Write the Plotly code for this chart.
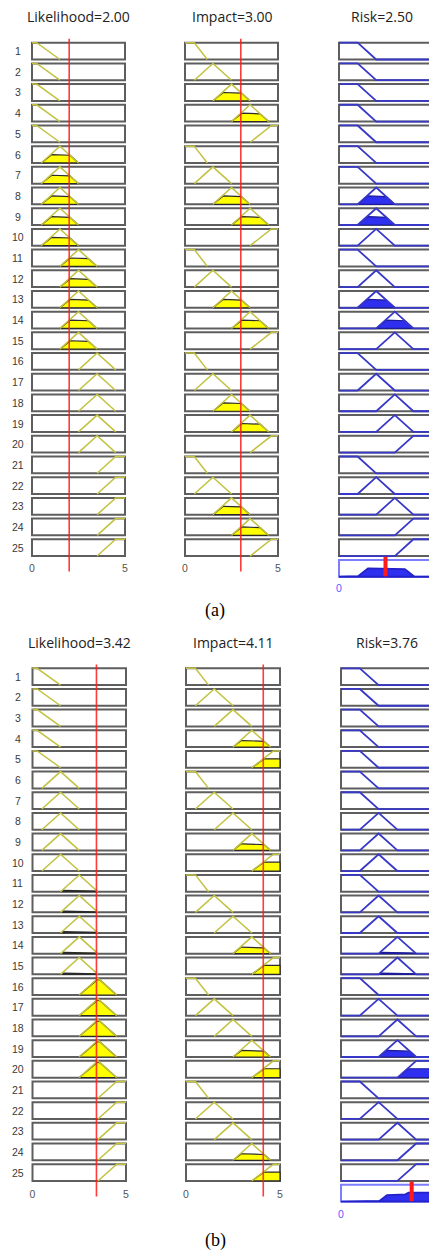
import numpy as np
import plotly.graph_objects as go

W, H = 429, 1255

# ---------------- data ----------------
mf_names = ['VL', 'L', 'M', 'H', 'VH']
lik_params = [[0, 0, 0.25, 1.5], [0.5, 1.5, 1.5, 2.5], [1.5, 2.5, 2.5, 3.5],
              [2.5, 3.5, 3.5, 4.5], [3.5, 4.5, 5, 5]]
imp_params = [[0, 0, 0.5, 1.2], [0.5, 1.5, 1.5, 2.5], [1.5, 2.5, 2.5, 3.5],
              [2.5, 3.5, 3.5, 4.5], [3.5, 4.65, 5, 5]]
risk_params = [[0, 0, 1, 2], [1, 2, 2, 3], [2, 3, 3, 4], [3, 4, 5, 5], [4, 5, 5, 5]]

rule_numbers = list(range(1, 26))
rule_lik = ['VL'] * 5 + ['L'] * 5 + ['M'] * 5 + ['H'] * 5 + ['VH'] * 5
rule_imp = ['VL', 'L', 'M', 'H', 'VH'] * 5
rule_risk = ['VL', 'VL', 'VL', 'VL', 'VL', 'VL', 'VL', 'L', 'L', 'L',
             'VL', 'L', 'L', 'M', 'M', 'VL', 'L', 'M', 'M', 'H',
             'VL', 'L', 'M', 'H', 'H']

panel_labels = ['(a)', '(b)']
likelihood_in = [2.00, 3.42]
impact_in = [3.00, 4.11]
risk_out = [2.50, 3.76]
x_ticks = [0, 5]

# ---------------- styling / layout geometry (pixels) ----------------
box_px = [[(32, 125), (185, 278), (339, 432)],
          [(32.5, 126), (186, 280), (341, 435)]]
col_dom_px = [(24, 150), (160, 305), (312, 429)]
panel_dom_px = [(0, 620), (620, 1255)]
row1_top = [42.7, 668.3]
pitch = [20.69, 20.66]
box_h = 16.8
title_y = [16, 642]
title_x = [[78, 232, 382], [79, 233, 387]]
label_y = [611, 1240]
tick_pos_px = [560, 1186]
risk_tick_pos_px = [580, 1206]

YEL_LINE = '#c2c240'
YEL_FILL = '#ffff00'
BLUE_LINE = '#3838c8'
BLUE_FILL = '#2f2ff0'
BOX = '#5e5e5e'
RED = 'rgba(255,25,25,0.85)'


def trapmf(x, p):
    a, b, c, d = p
    x = np.asarray(x, float)
    y = np.zeros_like(x)
    if b > a:
        y = np.where((x > a) & (x < b), (x - a) / (b - a), y)
    y = np.where((x >= b) & (x <= c), 1.0, y)
    if d > c:
        y = np.where((x > c) & (x < d), (d - x) / (d - c), y)
    return y


def mu(v, p):
    return float(trapmf(np.array([v]), p)[0])


def outline(p, full):
    a, b, c, d = p
    pts = []
    if full and a > 0:
        pts.append((0, 0))
    if a < b:
        pts.append((a, 0))
    pts.append((b, 1))
    pts.append((c, 1))
    if c < d:
        pts.append((d, 0))
    if full and d < 5:
        pts.append((5, 0))
    return pts


XS = np.linspace(0, 5, 1001)


def clipped_poly(vals):
    idx = np.where(vals > 1e-9)[0]
    if len(idx) == 0:
        return [], []
    i0 = max(idx[0] - 1, 0)
    i1 = min(idx[-1] + 1, len(XS) - 1)
    xs = list(XS[i0:i1 + 1]) + [XS[i1], XS[i0]]
    ys = list(vals[i0:i1 + 1]) + [0, 0]
    return xs, ys


fig = go.Figure()
layout = {}
annotations = []
shapes = []

for pi in range(2):
    k = box_h / pitch[pi]

    def ypx(p, pi=pi, k=k):
        return -1 + k - (p - row1_top[pi]) / pitch[pi]

    d0, d1 = panel_dom_px[pi]
    lik_v, imp_v, risk_v = likelihood_in[pi], impact_in[pi], risk_out[pi]
    strengths = []
    for r in range(25):
        ml = mu(lik_v, lik_params[mf_names.index(rule_lik[r])])
        mi = mu(imp_v, imp_params[mf_names.index(rule_imp[r])])
        strengths.append(min(ml, mi))

    for ci in range(3):
        ax = pi * 3 + ci + 1
        xname = 'xaxis' if ax == 1 else f'xaxis{ax}'
        yname = 'yaxis' if ax == 1 else f'yaxis{ax}'
        xr = 'x' if ax == 1 else f'x{ax}'
        yr = 'y' if ax == 1 else f'y{ax}'
        L, R = box_px[pi][ci]
        s = (R - L) / 5
        c0, c1 = col_dom_px[ci]
        is_risk = ci == 2
        layout[xname] = dict(
            domain=[c0 / W, c1 / W], range=[(c0 - L) / s, (c1 - L) / s],
            anchor='free',
            position=1 - (risk_tick_pos_px[pi] if is_risk else tick_pos_px[pi]) / H,
            tickvals=x_ticks, ticktext=[str(t) for t in x_ticks],
            ticks='', showgrid=False, zeroline=False, showline=False,
            tickfont=dict(family='Liberation Sans, Arial', size=10.5,
                          color='#5a5aff' if is_risk else '#555555'),
            fixedrange=True)
        layout[yname] = dict(
            domain=[1 - d1 / H, 1 - d0 / H], range=[ypx(d1), ypx(d0)],
            anchor=xr, visible=False, fixedrange=True)

        nrows = 26 if is_risk else 25
        for r in range(1, nrows + 1):
            agg = is_risk and r == 26
            shapes.append(dict(type='rect', xref=xr, yref=yr, x0=0, x1=5,
                               y0=-r, y1=-r + k, layer='below',
                               line=dict(color='#7d7dff' if agg else BOX, width=2),
                               fillcolor='white'))

        params = [lik_params, imp_params, risk_params][ci]
        names = [rule_lik, rule_imp, rule_risk][ci]
        fx, fy, ox, oy = [], [], [], []
        for r in range(25):
            p = params[mf_names.index(names[r])]
            if is_risk:
                h = strengths[r]
            else:
                h = mu([lik_v, imp_v][ci], p)
            if h > 0:
                xs, ys = clipped_poly(np.minimum(trapmf(XS, p), h))
                fx += xs + [None]
                fy += [-(r + 1) + v * k for v in ys] + [None]
            pts = outline(p, is_risk)
            ox += [q[0] for q in pts] + [None]
            oy += [-(r + 1) + q[1] * k for q in pts] + [None]
        if fx:
            fig.add_trace(go.Scatter(
                x=fx, y=fy, xaxis=xr, yaxis=yr, mode='lines', fill='toself',
                fillcolor=BLUE_FILL if is_risk else YEL_FILL,
                line=dict(color='#1c1c9a' if is_risk else '#2a2a2a', width=1.2),
                hoverinfo='skip', showlegend=False))
        fig.add_trace(go.Scatter(
            x=ox, y=oy, xaxis=xr, yaxis=yr, mode='lines',
            line=dict(color=BLUE_LINE if is_risk else YEL_LINE,
                      width=1.8 if is_risk else 1.5),
            hoverinfo='skip', showlegend=False))

        if is_risk:
            agg_vals = np.zeros_like(XS)
            for r in range(25):
                if strengths[r] > 0:
                    p = risk_params[mf_names.index(rule_risk[r])]
                    agg_vals = np.maximum(agg_vals, np.minimum(trapmf(XS, p), strengths[r]))
            ax_ = list(XS) + [5, 0]
            ay_ = list(agg_vals) + [0, 0]
            fig.add_trace(go.Scatter(
                x=ax_, y=[-26 + v * k for v in ay_], xaxis=xr, yaxis=yr,
                mode='lines', fill='toself', fillcolor=BLUE_FILL,
                line=dict(color='#2222c8', width=1.8),
                hoverinfo='skip', showlegend=False))
            fig.add_trace(go.Scatter(
                x=[risk_v, risk_v], y=[-26 + 0.02, -26 + k + 0.15], xaxis=xr, yaxis=yr,
                mode='lines', line=dict(color='#ff1a1a', width=4),
                hoverinfo='skip', showlegend=False))
        else:
            v = [lik_v, imp_v][ci]
            fig.add_trace(go.Scatter(
                x=[v, v], y=[0.0, -25.75], xaxis=xr, yaxis=yr, mode='lines',
                line=dict(color=RED, width=1.6),
                hoverinfo='skip', showlegend=False))

        title_txt = ['Likelihood=%.2f' % lik_v, 'Impact=%.2f' % imp_v,
                     'Risk=%.2f' % risk_v][ci]
        annotations.append(dict(
            text=title_txt, xref='paper', yref='paper',
            x=title_x[pi][ci] / W, y=1 - title_y[pi] / H,
            xanchor='center', yanchor='middle', showarrow=False,
            font=dict(family='Open Sans', size=14, color='#222222')))

    for r in rule_numbers:
        yr = 'y' if pi == 0 else 'y4'
        annotations.append(dict(
            text=str(r), xref='paper', yref=yr, x=17.5 / W, y=-r + k / 2,
            xanchor='center', yanchor='middle', showarrow=False,
            font=dict(family='Liberation Sans, Arial', size=10.5, color='#3a3a3a')))

    annotations.append(dict(
        text=panel_labels[pi], xref='paper', yref='paper',
        x=215 / W, y=1 - label_y[pi] / H, xanchor='center', yanchor='middle',
        showarrow=False,
        font=dict(family='Liberation Serif, Times New Roman', size=18, color='#000000')))

fig.update_layout(
    width=W, height=H, margin=dict(l=0, r=0, t=0, b=0),
    paper_bgcolor='white', plot_bgcolor='rgba(0,0,0,0)',
    showlegend=False, annotations=annotations, shapes=shapes, **layout)

fig.write_html('out.html', config={'displayModeBar': False},
               post_script="document.body.style.margin='0';document.body.style.overflow='hidden';")
